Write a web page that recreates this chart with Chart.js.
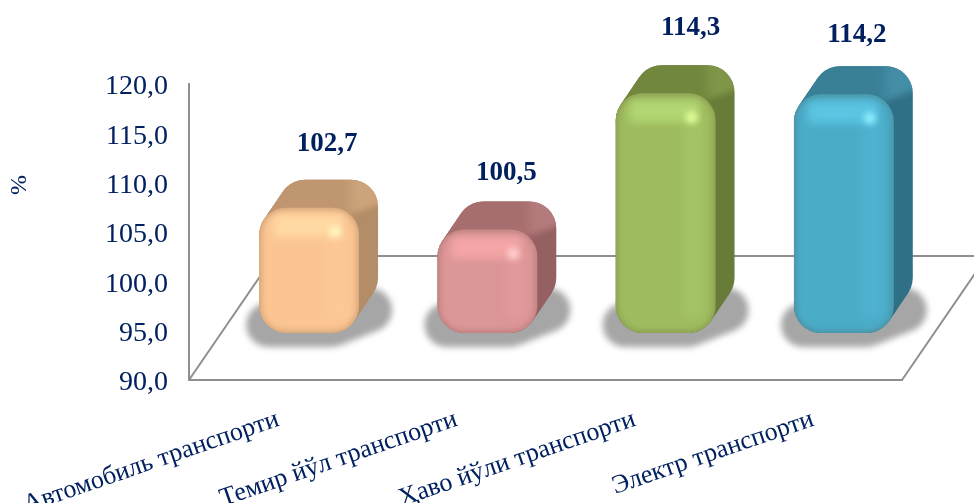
<!DOCTYPE html>
<html><head><meta charset="utf-8">
<style>html,body{margin:0;padding:0;background:#fff}#w{width:974px;height:503px}</style>
<script src="https://cdn.jsdelivr.net/npm/chart.js@4"></script></head>
<body><div id="w"><canvas id="c" width="974" height="503"></canvas></div>
<script>
const categories = ["Автомобиль транспорти","Темир йўл транспорти","Ҳаво йўли транспорти","Электр транспорти"];
const values = [102.7,100.5,114.3,114.2];
const valueLabels = ["102,7","100,5","114,3","114,2"];
const frontColors = ["#FBC592","#DC9697","#9EBC5F","#4BACC8"];
const lightColors = ["#FFD9A3","#F4A5A6","#B2D673","#5BC5E2"];
const spotColors = ["#FFF6C0","#FFD0D0","#E4FF9A","#8FEFFF"];
const topColors = ["#BF966F","#A66E6F","#71873E","#398097"];
const topLightColors = ["#CDA37B","#B47B7C","#7F9648","#448DA6"];
const sideColors = ["#B28D67","#946061","#677C38","#2F7086"];
const NAVY = "#002060", GREY = "#8F8F8F";
const SHIFT = {x:31,y:-47}, DEPTH = {x:19,y:-28}, R = 27;
const labelNudge = [[1,-2],[2,6],[8,-3],[-4,3]];

function sweepPath(ctx,x,y,w,h,r,dx,dy){
  ctx.beginPath();
  for(let i=0;i<=40;i++){const t=i/40;ctx.roundRect(x+dx*t,y+dy*t,w,h,r);}
}
function sweep(ctx,x,y,w,h,r,dx,dy){ sweepPath(ctx,x,y,w,h,r,dx,dy); ctx.fill(); }
const look = {
  id:"look",
  beforeDraw(chart){
    const s = chart.scales.y;
    if(!s._nudged){
      const orig = s.drawLabels;
      s.drawLabels = function(a){ const c=this.ctx; c.save(); c.translate(0,3); orig.call(this,a); c.restore(); };
      s._nudged = true;
    }
  },
  beforeDatasetsDraw(chart){
    const {ctx,chartArea:a} = chart;
    ctx.save();
    ctx.strokeStyle = GREY; ctx.lineWidth = 2;
    ctx.beginPath();
    ctx.moveTo(a.left,a.bottom); ctx.lineTo(a.left+85,a.bottom-124); ctx.lineTo(chart.width+20,a.bottom-124);
    ctx.moveTo(a.right,a.bottom); ctx.lineTo(a.right+85,a.bottom-124);
    ctx.stroke();
    ctx.restore();
    chart.getDatasetMeta(0).data.forEach((b,i)=>{
      const l=b.x-b.width/2+SHIFT.x, w=b.width, t=b.y+SHIFT.y, bot=b.base+SHIFT.y, h=bot-t;
      ctx.save(); ctx.filter="blur(3px)"; ctx.fillStyle="#A6A6A6";
      sweep(ctx,l-13,bot-30,w+8,44,22,38,-15);
      ctx.restore();
      ctx.save(); ctx.fillStyle=sideColors[i];
      sweep(ctx,l,t,w,h,R,DEPTH.x,DEPTH.y);
      sweepPath(ctx,l,t,w,h,R,DEPTH.x,DEPTH.y);
      ctx.clip();
      ctx.filter="blur(3px)";
      const g=ctx.createLinearGradient(l,0,l+w+DEPTH.x,0);
      g.addColorStop(0,topColors[i]); g.addColorStop(.72,topColors[i]); g.addColorStop(.82,topLightColors[i]); g.addColorStop(1,topLightColors[i]);
      ctx.fillStyle=g;
      ctx.beginPath();
      ctx.moveTo(l-8,t+R+4); ctx.lineTo(l+w-12,t+8); ctx.lineTo(l+w+DEPTH.x+8,t+DEPTH.y+22);
      ctx.lineTo(l+w+DEPTH.x+8,t+DEPTH.y-8); ctx.lineTo(l-8,t+DEPTH.y-8); ctx.closePath();
      ctx.fill();
      ctx.restore();
    });
  },
  beforeDatasetDraw(chart){ chart.ctx.save(); chart.ctx.translate(SHIFT.x,SHIFT.y); },
  afterDatasetDraw(chart){ chart.ctx.restore(); },
  afterDatasetsDraw(chart){
    const {ctx} = chart;
    chart.getDatasetMeta(0).data.forEach((b,i)=>{
      const l=b.x-b.width/2+SHIFT.x, w=b.width, t=b.y+SHIFT.y, bot=b.base+SHIFT.y, h=bot-t;
      ctx.save();
      ctx.beginPath(); ctx.roundRect(l,t,w,h,R); ctx.clip();
      ctx.filter="blur(4px)";
      ctx.fillStyle=lightColors[i];
      ctx.fillRect(l+14,t+7,w-30,22);
      ctx.globalAlpha=.25; ctx.fillStyle=lightColors[i];
      ctx.fillRect(l+w-33,t+25,21,h-40);
      ctx.globalAlpha=1;
      ctx.filter="blur(3px)";
      ctx.fillStyle=spotColors[i];
      ctx.beginPath(); ctx.arc(l+w-24,t+24,6,0,Math.PI*2); ctx.fill();
      ctx.strokeStyle="rgba(80,55,35,.38)"; ctx.lineWidth=4;
      ctx.beginPath(); ctx.roundRect(l-1,t-1,w+2,h+2,R); ctx.stroke();
      ctx.restore();
      ctx.save();
      ctx.font="bold 27px 'Liberation Serif'"; ctx.fillStyle=NAVY;
      ctx.textAlign="center"; ctx.textBaseline="middle";
      ctx.fillText(valueLabels[i],b.x+SHIFT.x+17+labelNudge[i][0],t-62+labelNudge[i][1]);
      ctx.restore();
    });
    ctx.save();
    ctx.translate(20,185); ctx.rotate(-Math.PI/2);
    ctx.font="24px 'Liberation Serif'"; ctx.fillStyle=NAVY; ctx.textAlign="center"; ctx.textBaseline="middle";
    ctx.fillText("%",0,0);
    ctx.restore();
  }
};
new Chart(document.getElementById("c"),{
  type:"bar",
  data:{labels:categories,datasets:[{data:values,base:90,backgroundColor:frontColors,
    borderRadius:R,borderSkipped:false,borderWidth:0,categoryPercentage:1,barPercentage:0.56,clip:false}]},
  plugins:[look],
  options:{responsive:false,animation:false,
    layout:{padding:{top:84,right:72,left:0,bottom:0}},
    plugins:{legend:{display:false},tooltip:{enabled:false}},
    scales:{
      x:{grid:{display:false,drawTicks:false},border:{color:GREY,width:2},
        afterFit(s){s.height=123;s.paddingLeft=0;s.paddingRight=0;},
        ticks:{color:NAVY,font:{family:"Liberation Serif",size:26},minRotation:19,maxRotation:19,padding:24,autoSkip:false}},
      y:{min:90,max:120,afterFit(s){s.width=189;},
        grid:{display:false,drawTicks:false},border:{color:GREY,width:2},
        ticks:{stepSize:5,color:NAVY,padding:21,font:{family:"Liberation Serif",size:28},
          callback:v=>v.toFixed(1).replace(".",",")}}
    }}
});
</script></body></html>
